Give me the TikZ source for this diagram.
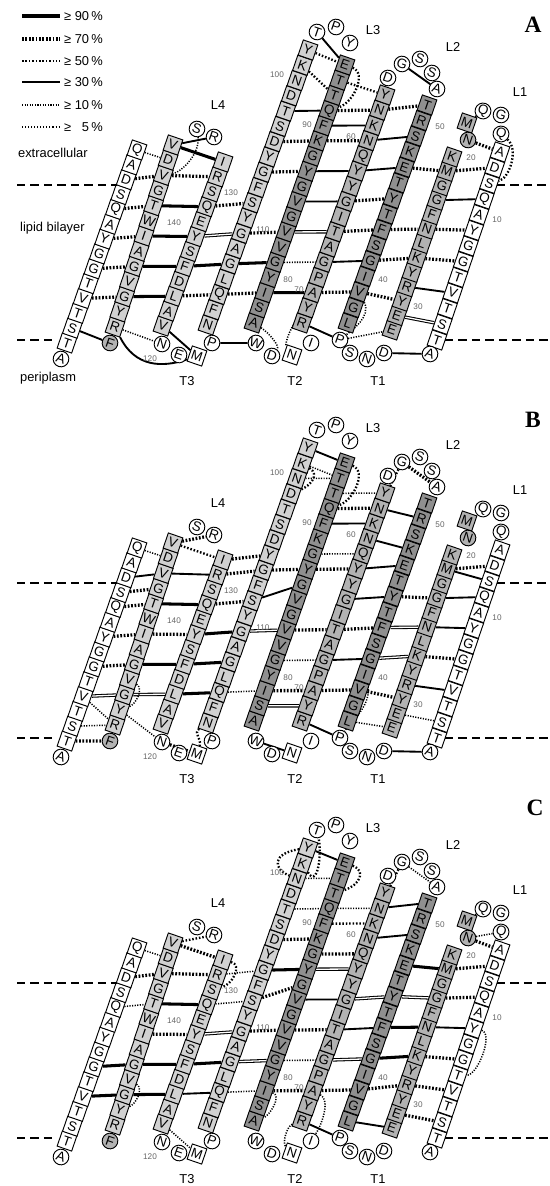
\documentclass[tikz,border=0pt]{standalone}
\usepackage{fontspec}
\setmainfont{Liberation Sans}
\newfontfamily\panelfont{Liberation Serif}
\usetikzlibrary{calc, backgrounds}

\definecolor{lgray}{gray}{0.82}
\definecolor{mgray}{gray}{0.70}
\definecolor{dgray}{gray}{0.56}
\definecolor{numgray}{gray}{0.40}

\tikzset{
  res/.style={draw, rotate=-19, minimum width=0.46cm, minimum height=0.48cm, inner sep=0pt, line width=0.8pt, fill=white, font=\fontsize{11.5}{11.5}\selectfont},
  wres/.style={res},
  lres/.style={res, fill=lgray},
  mres/.style={res, fill=mgray},
  dres/.style={res, fill=dgray},
  lpres/.style={res, circle, minimum size=0.47cm},
  glpres/.style={lpres, fill=mgray},
  lbl/.style={font=\fontsize{11}{11}\selectfont},
  num/.style={font=\fontsize{7}{7}\selectfont, text=numgray, inner sep=0pt},
  memb/.style={line width=1.3pt, dash pattern=on 7pt off 4.5pt},
  p90/.style={line width=2.6pt},
  p70/.style={line width=2.8pt, dash pattern=on 1.5pt off 1.4pt},
  p50/.style={line width=2pt, dash pattern=on 1.3pt off 1.6pt},
  p30/.style={line width=1.6pt},
  p10/.style={line width=1.3pt, dash pattern=on 1pt off 1.2pt},
  p05/.style={line width=1.1pt, dash pattern=on 0.9pt off 1.7pt},
  p99/.style={double, line width=0.9pt, double distance=1.1pt},
}

% one strand: prefix, bottom residue, numbering step, bottom, top, steps, style, letters bottom up
\newcommand{\strand}[8]{%
  \foreach \rl [count=\ki from 0] in {#8} {
    \pgfmathtruncatemacro\rn{#2+(#3)*\ki}
    \node[#7] (#1\rn) at ($#4!\ki/#6!#5$) {\rl};
  }}

% the opened barrel of one panel: prefix, vertical offset
\newcommand{\barrel}[2]{%
\begin{scope}[shift={(0,#2)}]
% === strands ===
\strand{#1x}{2}{1}{(67,343)}{(137,150)}{13}{wres}{T,S,T,V,T,G,G,Y,A,Q,S,D,A,Q}
\strand{#1}{147}{-1}{(115,327)}{(173,145)}{12}{lres}{R,Y,G,V,G,A,I,W,T,G,V,D,V}
\strand{#1}{121}{1}{(163,326)}{(223,162)}{11}{lres}{V,A,L,D,F,S,Y,E,Q,S,R,I}
\strand{#1}{116}{-1}{(208,325)}{(308,50)}{18}{lres}{N,F,Q,L,G,A,G,Y,S,F,G,Y,D,S,T,D,N,K,Y}
\strand{#1}{77}{1}{(254,323)}{(345,65)}{17}{dres}{A,S,I,Y,G,V,V,G,V,G,Y,G,K,F,Q,T,T,E}
\strand{#1}{72}{-1}{(302,323)}{(385,95)}{15}{mres}{R,Y,A,P,G,A,T,I,G,Y,Y,Q,N,K,N,Y}
\strand{#1}{37}{1}{(348,323)}{(427,105)}{14}{dres}{L,G,V,I,G,S,F,T,Y,T,E,K,S,R,T}
\strand{#1}{32}{-1}{(392,330)}{(452,157)}{12}{mres}{E,E,Y,R,Y,K,L,N,F,G,G,M,K}
\strand{#1}{2}{1}{(437,340)}{(500,152)}{12}{wres}{T,S,T,V,T,G,G,Y,A,Q,S,D,A}
% === loops and turns ===
\node[lpres] (#1x1) at (61,359) {A};
\node[lpres] (#11) at (430,354) {A};
\node[lpres] (#115) at (501,134) {Q};
\node[lpres] (#116) at (501,115) {G};
\node[lpres] (#117) at (483,111) {Q};
\node[mres] (#118) at (467,123) {M};
\node[glpres] (#119) at (468,140) {N};
\node[lpres] (#133) at (384,353) {D};
\node[lpres] (#134) at (367,359) {N};
\node[lpres] (#135) at (350,353) {S};
\node[lpres] (#136) at (340,340) {P};
\node[lpres] (#152) at (437,89) {A};
\node[lpres] (#153) at (432,73) {S};
\node[lpres] (#154) at (420,59) {S};
\node[lpres] (#155) at (402,64) {G};
\node[lpres] (#156) at (388,78) {D};
\node[lpres] (#195) at (350,43) {Y};
\node[lpres] (#196) at (336,27) {P};
\node[lpres] (#197) at (317,32) {T};
\node[lpres] (#173) at (311,343) {I};
\node[wres] (#174) at (292,355) {N};
\node[lpres] (#175) at (272,356) {D};
\node[lpres] (#176) at (256,343) {W};
\node[lpres] (#1117) at (212,343) {P};
\node[wres] (#1118) at (197,356) {M};
\node[lpres] (#1119) at (179,355) {E};
\node[lpres] (#1120) at (162,344) {N};
\node[lpres] (#1133) at (214,137) {R};
\node[lpres] (#1134) at (197,129) {S};
\node[glpres] (#1148) at (110,343) {F};
% === membrane boundaries ===
\coordinate (#1ula) at (17,185); \coordinate (#1ulb) at (117,185);
\coordinate (#1ura) at (497,185); \coordinate (#1urb) at (549,185);
\coordinate (#1lla) at (17,340); \coordinate (#1llb) at (57,340);
\coordinate (#1lra) at (445,340); \coordinate (#1lrb) at (549,340);
\draw[memb] (#1ula) -- (#1ulb);
\draw[memb] (#1ura) -- (#1urb);
\draw[memb] (#1lla) -- (#1llb);
\draw[memb] (#1lra) -- (#1lrb);
% === loop and turn labels ===
\node[lbl] (#1L1) at (520,92) {L1};
\node[lbl] (#1L2) at (453,47) {L2};
\node[lbl] (#1L3) at (373,30) {L3};
\node[lbl] (#1L4) at (218,105) {L4};
\node[lbl] (#1T1) at (378,381) {T1};
\node[lbl] (#1T2) at (295,381) {T2};
\node[lbl] (#1T3) at (187,381) {T3};
% === residue numbers ===
\foreach \nn/\px/\py in {10/497/220, 20/471/158, 30/418/307, 40/383/280, 50/440/127, 60/351/137, 70/299/290,
    80/288/280, 90/307/125, 100/277/75, 110/263/230, 120/150/359, 130/231/193, 140/174/223} {
  \node[num] (#1n\nn) at (\px,\py) {\nn};
}
\end{scope}}

\begin{document}
\begin{tikzpicture}[x=0.03cm, y=-0.03cm]
\useasboundingbox (0,0) rectangle (549,1186);
\barrel{A}{0}
\barrel{B}{398}
\barrel{C}{798}
% === panel tags ===
\node[font={\fontsize{20}{20}\panelfont\bfseries}] (tagA) at (533,25) {A};
\node[font={\fontsize{20}{20}\panelfont\bfseries}] (tagB) at (533,420) {B};
\node[font={\fontsize{20}{20}\panelfont\bfseries}] (tagC) at (535,808) {C};
% === legend and sides (panel A) ===
\foreach \i/\py/\ty/\pc in {1/16/p90/90, 2/39/p70/70, 3/61/p50/50, 4/82/p30/30, 5/105/p10/10, 6/127/p05/\phantom{0}5} {
  \coordinate (lgs\i) at (22,\py);
  \node[lbl, anchor=west] (lgt\i) at (60,\py) {≥ \pc\,\%};
  \draw[\ty] (lgs\i) -- (lgt\i.west);
}
\node[lbl, anchor=west] (extra) at (14,153) {extracellular};
\node[lbl, anchor=west] (bilayer) at (16,228) {lipid bilayer};
\node[lbl, anchor=west] (peri) at (16,378) {periplasm};
% === hydrogen bonds, panel A ===
\begin{scope}[on background layer]
\foreach \a/\b/\ty in {x15/136/p10, x13/137/p70, x11/139/p70, x9/141/p70, x7/143/p70, x5/145/p70, x3/148/p30,
    135/133/p30, 135/132/p90, 137/131/p70, 139/129/p90, 141/127/p90, 143/125/p90, 145/123/p90, 147/120/p10, 121/118/p30,
    129/108/p70, 127/110/p99, 125/112/p90, 123/114/p70, 117/76/p30,
    97/94/p30, 98/94/p50, 99/92/p50, 102/91/p30, 104/89/p70, 106/87/p70, 110/83/p70, 112/81/p90, 114/79/p70,
    93/57/p50, 91/58/p70, 90/59/p30, 89/60/p70, 87/62/p30, 85/64/p30, 83/66/p99, 81/68/p10, 79/70/p90,
    55/52/p30, 58/51/p70, 60/49/p30, 62/47/p30, 64/45/p70, 66/43/p70, 68/41/p30, 70/39/p70, 72/36/p30,
    47/21/p70, 43/25/p70, 41/27/p70, 39/30/p70, 36/32/p10,
    18/17/p30, 19/14/p70, 21/13/p70, 23/11/p30, 25/9/p70, 27/7/p70, 29/5/p30, 31/3/p99, 33/1/p30} {
  \draw[\ty] (A\a) -- (A\b);
}
\draw[p30] (A147) .. controls +(20,40) and +(-35,12) .. (A118);
\draw[p10] (A134) .. controls +(3,25) and +(18,-3) .. (A137);
\draw[p50] (A94) .. controls +(22,8) and +(25,-8) .. (A91);
\draw[p50] (A15) .. controls +(18,15) and +(20,-5) .. (A12);
\draw[p10] (A71) .. controls +(-15,15) and +(-8,-12) .. (A74);
\draw[p10] (A77) .. controls +(15,10) and +(8,-10) .. (A75);
\draw[p10] (A39) .. controls +(12,25) and +(12,-10) .. (A36);
% === hydrogen bonds, panel B ===
\foreach \a/\b/\ty in {x15/136/p10, x13/137/p30, x12/138/p70, x11/139/p70, x9/141/p70, x7/143/p70, x5/145/p99, x5/147/p10, x3/147/p10, x2/148/p70,
    135/133/p70, 135/132/p50, 137/131/p30, 139/129/p90, 141/127/p70, 143/125/p90, 145/123/p99, 146/120/p10, 120/118/p70,
    132/105/p70, 131/106/p70, 129/108/p70, 127/110/p90, 125/112/p90, 123/114/p90,
    98/94/p30, 99/93/p10, 100/93/p10, 106/87/p70, 108/86/p30, 110/83/p99, 114/79/p10,
    92/57/p10, 91/58/p70, 90/59/p30, 88/61/p10, 87/62/p70, 83/66/p70, 81/68/p10, 79/70/p70, 78/71/p99, 76/74/p30,
    55/52/p70, 55/58/p50, 58/50/p30, 60/48/p30, 62/47/p30, 64/45/p30, 66/43/p70, 68/41/p30, 70/39/p70, 72/36/p30,
    45/23/p70, 43/25/p99, 41/27/p99, 39/30/p70, 37/32/p10,
    21/13/p70, 21/12/p30, 23/11/p30, 25/9/p30, 27/7/p70, 29/5/p30, 31/3/p10, 33/1/p30} {
  \draw[\ty] (B\a) -- (B\b);
}
\draw[p10] (B144) .. controls +(15,10) and +(15,-5) .. (B146);
\draw[p50] (B116) .. controls +(-15,10) and +(5,-15) .. (B118);
\draw[p50] (B99) .. controls +(18,12) and +(18,-8) .. (B101);
\draw[p50] (B94) .. controls +(22,8) and +(25,-8) .. (B91);
\draw[p10] (B40) .. controls +(8,30) and +(10,-15) .. (B36);
% === hydrogen bonds, panel C ===
\foreach \a/\b/\ty in {x15/136/p10, x13/137/p70, x11/139/p10, x7/143/p90, x5/145/p90,
    135/133/p50, 135/132/p70, 137/131/p70, 139/129/p90, 141/127/p70, 143/125/p90, 145/123/p90, 121/118/p10,
    131/106/p10, 129/108/p10, 127/110/p99, 125/112/p90, 123/114/p30,
    98/94/p30, 100/93/p10, 102/91/p10, 104/89/p70, 106/87/p90, 108/86/p70, 110/83/p70, 112/81/p99, 114/79/p10,
    91/58/p10, 90/59/p50, 88/61/p70, 87/62/p99, 85/64/p30, 83/66/p70, 81/68/p10, 79/70/p70,
    55/52/p10, 55/58/p50, 58/51/p30, 60/49/p30, 64/45/p99, 66/43/p30, 68/41/p99, 70/39/p70, 72/36/p30,
    47/21/p90, 45/23/p99, 43/25/p90, 41/27/p90, 39/29/p70, 37/32/p30,
    18/17/p10, 19/15/p10, 19/14/p70, 21/13/p70, 23/11/p70, 25/9/p30, 27/7/p70, 29/5/p70, 31/3/p70} {
  \draw[\ty] (C\a) -- (C\b);
}
\draw[p50] (C132) .. controls +(20,5) and +(20,-5) .. (C130);
\draw[p10] (C144) .. controls +(15,10) and +(15,-5) .. (C146);
\draw[p50] (C98) .. controls +(-35,5) and +(-25,-10) .. (C100);
\draw[p50] (C99) .. controls +(15,25) and +(5,25) .. (C97);
\draw[p50] (C94) .. controls +(22,8) and +(25,-8) .. (C92);
\draw[p10] (C79) .. controls +(18,5) and +(15,-5) .. (C77);
\draw[p10] (C72) .. controls +(-15,5) and +(-10,-10) .. (C74);
\draw[p10] (C70) .. controls +(18,10) and +(10,-15) .. (C73);
\draw[p10] (C9) .. controls +(20,5) and +(20,0) .. (C6);
\end{scope}
\end{tikzpicture}
\end{document}
